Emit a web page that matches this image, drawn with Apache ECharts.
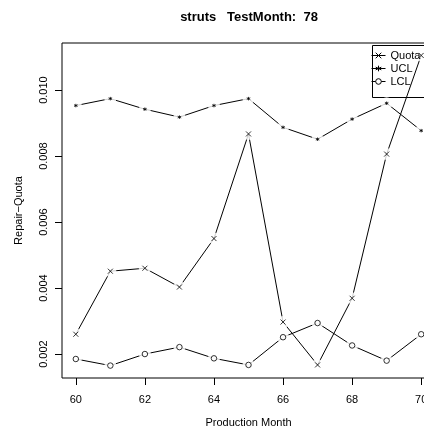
<!DOCTYPE html>
<html>
<head>
<meta charset="utf-8">
<script src="https://cdn.jsdelivr.net/npm/echarts@6/dist/echarts.min.js"></script>
<style>
  html, body { margin: 0; padding: 0; background: #fff; }
  #chart { width: 424px; height: 428px; }
</style>
</head>
<body>
<div id="chart"></div>
<script>
// data
const months = [60, 61, 62, 63, 64, 65, 66, 67, 68, 69, 70];
const quota = [0.00260, 0.00451, 0.00460, 0.00403, 0.00550, 0.00867, 0.00297, 0.00167, 0.00369, 0.00806, 0.01105];
const ucl = [0.00953, 0.00974, 0.00942, 0.00918, 0.00953, 0.00974, 0.00887, 0.00851, 0.00912, 0.00960, 0.00877];
const lcl = [0.00185, 0.00165, 0.00200, 0.00221, 0.00187, 0.00167, 0.00251, 0.00294, 0.00226, 0.00180, 0.00260];
const xTicks = [60, 62, 64, 66, 68, 70];
const yTicks = [0.002, 0.004, 0.006, 0.008, 0.010];
const names = ["Quota", "UCL", "LCL"];

const font = "'Liberation Sans', Arial, Helvetica, sans-serif";

// glyphs like R's pch = "x", "*", "o"
const glyphX = "path://M0,0L10,10M10,0L0,10";
const glyphStar = "path://M5,0L5,10M0.7,2.5L9.3,7.5M9.3,2.5L0.7,7.5";
const glyphO = "path://M10,5A5,5,0,1,1,0,5A5,5,0,1,1,10,5Z";

// R pads the data range by 4% on each side
const pad = (lo, hi) => [lo - (hi - lo) * 0.04, hi + (hi - lo) * 0.04];
const allY = quota.concat(ucl, lcl);
const [yMin, yMax] = pad(Math.min(...allY), Math.max(...allY));
const [xMin, xMax] = pad(Math.min(...months), Math.max(...months));

const pairs = (ys) => months.map((m, i) => [m, ys[i]]);

const markStyle = { color: "#fff", borderColor: "#000", borderWidth: 1 };

const lineSeries = (name, ys, glyph, size) => ({
  name: name,
  type: "line",
  data: pairs(ys),
  symbol: glyph,
  symbolSize: size,
  showSymbol: false,
  itemStyle: markStyle,
  lineStyle: { color: "#000", width: 1 },
  z: 2,
  silent: true,
});

const glyphSeries = (ys, glyph, size) => ({
  type: "scatter",
  data: pairs(ys),
  symbol: glyph,
  symbolSize: size,
  itemStyle: markStyle,
  z: 4,
  silent: true,
});

const chart = echarts.init(document.getElementById("chart"));

chart.setOption({
  animation: false,
  title: {
    text: "struts   TestMonth:  78",
    left: 249,
    top: 11,
    padding: 0,
    textAlign: "center",
    textStyle: { fontFamily: font, fontSize: 13, fontWeight: "bold", color: "#000" },
  },
  legend: {
    orient: "vertical",
    left: 370,
    top: 43,
    padding: [6, 0, 6, 1],
    itemWidth: 14,
    itemHeight: 7,
    itemGap: 0,
    data: names.map((n) => ({
      name: n,
      itemStyle: { color: "#fff", borderColor: "#000", borderWidth: 1 },
      lineStyle: { color: "#000", width: 1 },
    })),
    textStyle: { fontFamily: font, fontSize: 11, color: "#000", lineHeight: 13 },
  },
  // legend frame, running off the right edge like the plot box
  graphic: [
    {
      type: "rect",
      left: 370,
      top: 43,
      shape: { width: 80, height: 52 },
      style: { fill: "none", stroke: "#000", lineWidth: 1 },
      silent: true,
    },
  ],
  grid: {
    left: 62,
    top: 43,
    bottom: 50,
    width: 373,
    outerBoundsMode: "none",
    show: true,
    borderColor: "#000",
    borderWidth: 1,
  },
  xAxis: {
    type: "value",
    min: xMin,
    max: xMax,
    name: "Production Month",
    nameLocation: "middle",
    nameGap: 39,
    nameTextStyle: { fontFamily: font, fontSize: 11, color: "#000" },
    axisLine: { show: false },
    splitLine: { show: false },
    axisTick: { customValues: xTicks, length: 7, lineStyle: { color: "#000" } },
    axisLabel: { customValues: xTicks, margin: 16, fontFamily: font, fontSize: 11, color: "#000" },
  },
  yAxis: {
    type: "value",
    min: yMin,
    max: yMax,
    name: "Repair\u2212Quota",
    nameLocation: "middle",
    nameGap: 38,
    nameRotate: 90,
    nameTextStyle: { fontFamily: font, fontSize: 11, color: "#000" },
    axisLine: { show: false },
    splitLine: { show: false },
    axisTick: { customValues: yTicks, length: 7, lineStyle: { color: "#000" } },
    axisLabel: {
      customValues: yTicks,
      rotate: 90,
      margin: 13,
      fontFamily: font,
      fontSize: 11,
      color: "#000",
      formatter: (v) => v.toFixed(3),
    },
  },
  series: [
    lineSeries("Quota", quota, glyphX, 5),
    lineSeries("UCL", ucl, glyphStar, 3.5),
    lineSeries("LCL", lcl, glyphO, 5.5),
    // white discs leave gaps in the lines around each point (R type = "b")
    {
      type: "scatter",
      data: pairs(quota).concat(pairs(ucl), pairs(lcl)),
      symbol: "circle",
      symbolSize: 12,
      itemStyle: { color: "#fff" },
      z: 3,
      silent: true,
    },
    glyphSeries(quota, glyphX, 5),
    glyphSeries(ucl, glyphStar, 3.5),
    glyphSeries(lcl, glyphO, 5.5),
  ],
});
</script>
</body>
</html>
